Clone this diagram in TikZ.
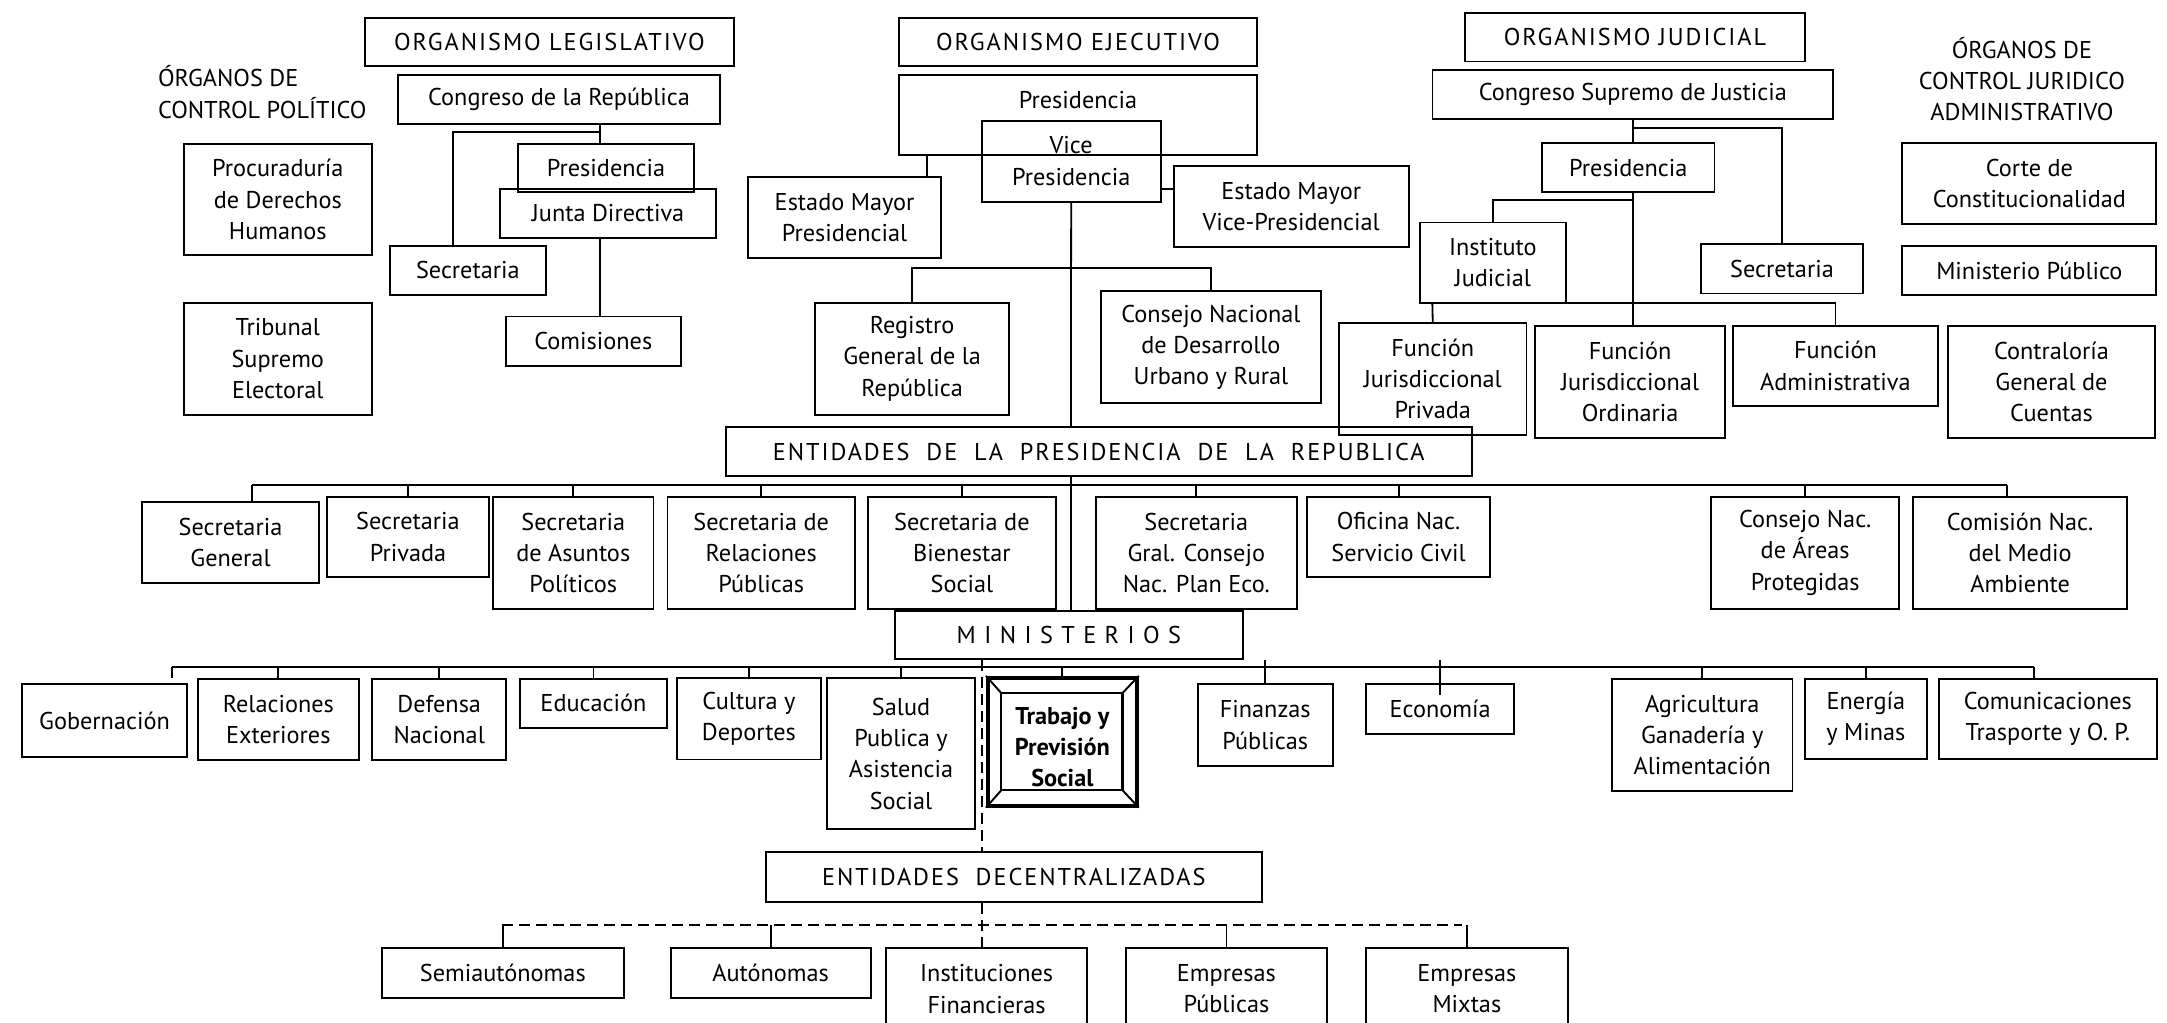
\documentclass[tikz,border=0pt]{standalone}
\usepackage{fontspec}
\setmainfont{PT Sans}
\newfontfamily\spacedfont{PT Sans}[LetterSpace=8]
\usepackage{tikz}
\newcommand{\chartfont}{\fontsize{10}{12.85}\selectfont}
\tikzstyle{box} = [draw, line width=0.8pt, align=center, inner sep=1pt, font=\chartfont]
\tikzstyle{conn} = [line width=0.75pt]
\tikzstyle{dashlink} = [line width=0.8pt, dash pattern=on 4.5pt off 2.5pt]
\tikzset{wh/.style 2 args={minimum width=#1*0.02cm, minimum height=#2*0.02cm}}

\begin{document}
\begin{tikzpicture}[x=0.02cm,y=-0.02cm]
	\useasboundingbox (0,0) rectangle (1568,740);
	
	% Titles of the control organs:
	\node[font=\chartfont, align=left, anchor=west, inner sep=0pt] (ctrlpol) at (114,66.6) {ÓRGANOS DE\\CONTROL POLÍTICO};
	\node[font=\chartfont, align=center, inner sep=0pt] (ctrljur) at (1463,57.4) {ÓRGANOS DE\\CONTROL JURIDICO\\ADMINISTRATIVO};
	
	% Organismo Legislativo:
	\node[box, font=\chartfont\spacedfont, wh={267}{35}] (orgleg) at (397.5,30.3) {ORGANISMO LEGISLATIVO};
	\node[box, wh={233}{35.7}] (congreso) at (404.5,71.9) {Congreso de la República};
	\node[box, wh={127}{35}] (lpres) at (438.5,121.5) {Presidencia};
	\node[box, wh={156}{35.5}] (junta) at (440,154.3) {Junta Directiva};
	\node[box, wh={113}{35.7}] (lsec) at (338.5,195.7) {Secretaria};
	\node[box, wh={126.5}{36}] (comis) at (429.3,247) {Comisiones};
	\node[box, wh={136}{80.5}] (procur) at (201,144.3) {Procuraduría\\de Derechos\\Humanos};
	\node[box, wh={136}{81}] (tribunal) at (201,259.5) {Tribunal\\Supremo\\Electoral};
	
	\coordinate (lj) at (434,95.5);
	\coordinate (lk) at (328,95.5);
	\draw[conn] (congreso.south -| lj) -- (lpres.north -| lj);
	\draw[conn] (lj) -- (lk) -- (lk |- lsec.north);
	\draw[conn] (junta.south -| lj) -- (comis.north -| lj);
	
	% Organismo Ejecutivo:
	\node[box, font=\chartfont\spacedfont, wh={258.7}{35}] (orgeje) at (780,30.3) {ORGANISMO EJECUTIVO};
	\node[box, wh={258.7}{58.1}, label={[anchor=north, inner sep=0pt, yshift=-7pt, font=\chartfont]north:Presidencia}] (epres) at (780,83.4) {};
	\node[box, wh={129.4}{58.7}] (vice) at (775.1,116.6) {Vice\\Presidencia};
	\node[box, wh={139.2}{58.7}] (emp) at (611.1,157.6) {Estado Mayor\\Presidencial};
	\node[box, wh={170}{58.5}] (emvp) at (934.3,149.3) {Estado Mayor\\Vice-Presidencial};
	\node[box, wh={140}{81}] (registro) at (660,259.6) {Registro\\General de la\\República};
	\node[box, wh={158.7}{81.2}] (consejo) at (876.2,251.2) {Consejo Nacional\\de Desarrollo\\Urbano y Rural};
	
	\coordinate (ea) at (670.5,120);
	\coordinate (eb) at (775,194);
	\coordinate (ec) at (845,136.5);
	\draw[conn] (epres.south -| ea) -- (emp.north -| ea);
	\draw[conn] (vice.east |- ec) -- (emvp.west |- ec);
	\draw[conn] (vice.south) -- (eb);
	\draw[conn] (registro.north) |- (eb) -| (consejo.north);
	
	% Organismo Judicial:
	\node[box, font=\chartfont\spacedfont, wh={246}{35}] (orgjud) at (1183,27) {ORGANISMO JUDICIAL};
	\node[box, wh={290}{35.4}] (csj) at (1181.5,68.6) {Congreso Supremo de Justicia};
	\node[box, wh={124.7}{35.3}] (jpres) at (1178.2,121.3) {Presidencia};
	\node[box, wh={105.6}{58}] (instituto) at (1080.2,190) {Instituto\\Judicial};
	\node[box, wh={117.3}{35.7}] (jsec) at (1289.4,194.5) {Secretaria};
	\node[box, wh={135.7}{81.3}] (fpriv) at (1036.7,274.2) {Función\\Jurisdiccional\\Privada};
	\node[box, wh={137.6}{81.1}] (ford) at (1179.5,276.2) {Función\\Jurisdiccional\\Ordinaria};
	\node[box, wh={147.8}{58.2}] (fadm) at (1328.1,264.7) {Función\\Administrativa};
	\node[box, wh={183.8}{58.1}] (corte) at (1468.4,132.8) {Corte de\\Constitucionalidad};
	\node[box, wh={183.8}{35.7}] (minpub) at (1468.4,195.7) {Ministerio Público};
	\node[box, wh={149.2}{81.1}] (contral) at (1484.4,276.2) {Contraloría\\General de\\Cuentas};
	
	\coordinate (jx) at (1181.8,92.4);
	\coordinate (jy) at (1181.8,144.7);
	\coordinate (jz) at (1036.4,219);
	\draw[conn] (csj.south -| jx) -- (jpres.north -| jx);
	\draw[conn] (jx) -| (jsec.north);
	\draw[conn] (jpres.south -| jx) -- (ford.north -| jx);
	\draw[conn] (jy) -| (instituto.north);
	\draw[conn] (jz) -| (fadm.north);
	\draw[conn] (jz) -- (fpriv.north);
	
	% Entidades de la Presidencia:
	\node[box, font=\chartfont\spacedfont, wh={539.7}{35.7}] (entpres) at (795,326.8) {ENTIDADES~~DE~~LA~~PRESIDENCIA~~DE~~LA~~REPUBLICA};
	\node[box, wh={128}{58.6}] (sgen) at (166.8,392.3) {Secretaria\\General};
	\node[box, wh={116.8}{58.3}] (spriv) at (295.2,388.6) {Secretaria\\Privada};
	\node[box, wh={116.1}{81.2}] (sasun) at (414.8,400) {Secretaria\\de Asuntos\\Políticos};
	\node[box, wh={135.6}{81.2}] (srel) at (550.8,400) {Secretaria de\\Relaciones\\Públicas};
	\node[box, wh={136.1}{81.2}] (sbien) at (696,400) {Secretaria de\\Bienestar\\Social};
	\node[box, wh={145.2}{81.2}] (sgral) at (865.6,400) {Secretaria\\Gral. Consejo\\Nac. Plan Eco.};
	\node[box, wh={132.4}{58.3}] (ofic) at (1012,388.6) {Oficina Nac.\\Servicio Civil};
	\node[box, wh={135.9}{81.2}] (sareas) at (1306.2,400) {Consejo Nac.\\de Áreas\\Protegidas};
	\node[box, wh={155}{81.2}] (smedio) at (1461.7,400) {Comisión Nac.\\del Medio\\Ambiente};
	
	\draw[conn] (eb) -- (entpres.north -| eb);
	\coordinate (pbl) at (182.4,351);
	\coordinate (pbr) at (1452,351);
	\draw[conn] (pbl) -- (pbr);
	\draw[conn] (pbl) -- (pbl |- sgen.north);
	\draw[conn] (pbr) -- (pbr |- smedio.north);
	\foreach \n in {spriv,sasun,srel,sbien,sgral,ofic,sareas}
	{
		\draw[conn] (\n.north) -- (\n.north |- pbl);
	}
	
	% Ministerios:
	\node[box, font=\chartfont\spacedfont, wh={251.8}{35.2}] (minis) at (773.4,459.5) {M I N I S T E R I O S};
	\node[box, wh={119.2}{52.4}] (gob) at (75.6,521.4) {Gobernación};
	\node[box, wh={116.9}{58.9}] (rel) at (201.4,520.6) {Relaciones\\Exteriores};
	\node[box, wh={97.2}{58.9}] (def) at (317.8,520.6) {Defensa\\Nacional};
	\node[box, wh={106.8}{35.5}] (edu) at (429.4,508.9) {Educación};
	\node[box, wh={103.7}{58.7}] (cult) at (541.9,520.2) {Cultura y\\Deportes};
	\node[box, wh={107.1}{109.1}] (salud) at (652,545.4) {Salud\\Publica y\\Asistencia\\Social};
	\node[draw, line width=1.6pt, wh={107.8}{92.6}] (trab) at (768.7,536.7) {};
	\node[box, wh={97.6}{58.8}] (fin) at (915.5,524.6) {Finanzas\\Públicas};
	\node[box, wh={106.9}{35.9}] (eco) at (1042,513.2) {Economía};
	\node[box, wh={130.6}{81.4}] (agri) at (1231.7,531.7) {Agricultura\\Ganadería y\\Alimentación};
	\node[box, wh={87.8}{58.4}] (ener) at (1350.1,520.3) {Energía\\y Minas};
	\node[box, wh={157.7}{58.4}] (com) at (1481.8,520.3) {Comunicaciones\\Trasporte y O. P.};
	
	% Trabajo y Prevision Social: double frame
	\coordinate (tnw) at ([shift={(11.1,12.5)}]trab.north west);
	\coordinate (tse) at ([shift={(-11.8,-12.6)}]trab.south east);
	\coordinate (tne) at (tse |- tnw);
	\coordinate (tsw) at (tnw |- tse);
	\draw[line width=1pt] (tnw) rectangle (tse);
	\foreach \c/\i in {north west/tnw, north east/tne, south west/tsw, south east/tse}
	{
		\draw[line width=0.8pt] (trab.\c) -- (\i);
	}
	\node[font=\chartfont\bfseries, align=center, inner sep=0pt] (trabtxt) at (768.7,540.7) {Trabajo y\\Previsión\\Social};
	
	\draw[conn] (entpres.south -| eb) -- (minis.north -| eb);
	\coordinate (mbl) at (124.6,482.4);
	\coordinate (mbr) at (1471.8,482.4);
	\draw[conn] (mbl) -- (mbr);
	\draw[conn] (mbl) -- (mbl |- rel.north);
	\draw[conn] (mbr) -- (mbr |- com.north);
	\foreach \n in {rel,def,edu,cult,salud,trab,agri,ener}
	{
		\draw[conn] (\n.north) -- (\n.north |- mbl);
	}
	\draw[conn] (fin.north) -- (fin.north |- minis.south);
	\draw[conn] ([yshift=-0.17cm]eco.north) -- (eco.north |- minis.south);
	
	% Entidades descentralizadas:
	\node[box, font=\chartfont\spacedfont, wh={358.7}{35.7}] (entdec) at (733.6,634.6) {ENTIDADES~~DECENTRALIZADAS};
	\node[box, wh={174.9}{35.7}] (semi) at (363.8,704) {Semiautónomas};
	\node[box, wh={144.7}{35.7}] (auto) at (557.6,704) {Autónomas};
	\node[box, wh={145.8}{58.8}] (instf) at (713.9,715.6) {Instituciones\\Financieras};
	\node[box, wh={145.3}{58.8}] (emppub) at (887.4,715.6) {Empresas\\Públicas};
	\node[box, wh={145.7}{58.8}] (empmix) at (1061.4,715.6) {Empresas\\Mixtas};
	
	\coordinate (dx) at (710.4,600);
	\draw[dashlink] (minis.south -| dx) -- (entdec.north -| dx);
	\draw[dashlink] (entdec.south -| dx) -- (instf.north -| dx);
	\coordinate (dbl) at (363.4,669.3);
	\coordinate (dbr) at (1057.6,669.3);
	\draw[dashlink] (dbl) -- (dbr);
	\foreach \n in {semi,auto,emppub,empmix}
	{
		\draw[conn] (\n.north) -- (\n.north |- dbl);
	}
	
\end{tikzpicture}
\end{document}
